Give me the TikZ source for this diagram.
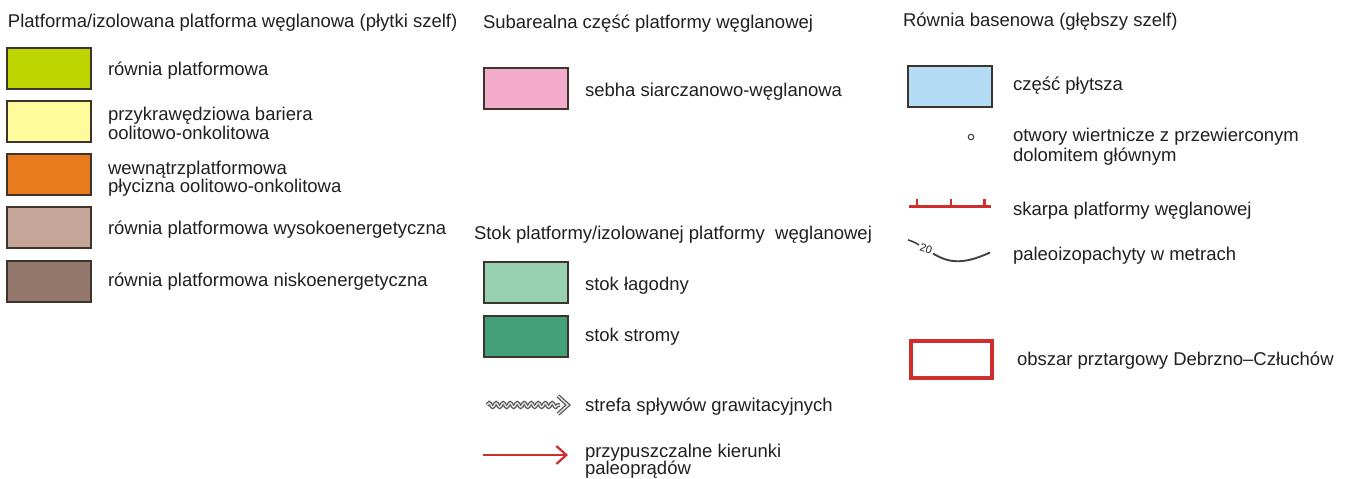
\documentclass[tikz,border=0pt]{standalone}
\usepackage{fontspec}
\setmainfont{Liberation Sans}
\usetikzlibrary{arrows.meta,decorations.pathmorphing}
\definecolor{txt}{RGB}{35,31,32}
\definecolor{bord}{RGB}{60,52,45}
\definecolor{cgreen}{RGB}{190,214,0}
\definecolor{cyellow}{RGB}{255,250,155}
\definecolor{corange}{RGB}{232,123,30}
\definecolor{crose}{RGB}{196,165,152}
\definecolor{cbrown}{RGB}{148,119,107}
\definecolor{cpink}{RGB}{243,172,203}
\definecolor{clgreen}{RGB}{152,208,178}
\definecolor{cdgreen}{RGB}{68,160,120}
\definecolor{cblue}{RGB}{180,221,245}
\definecolor{cred}{RGB}{208,45,45}
\begin{document}
\begin{tikzpicture}[x=1pt,y=-1pt,
  lbl/.style={anchor=base west,inner sep=0pt,outer sep=0pt,text=txt,font=\fontsize{18.5}{20}\selectfont},
  swatch/.style={draw=bord,line width=1.4pt,anchor=north west,minimum width=84pt,minimum height=41pt,inner sep=0pt,outer sep=0pt},
  redline/.style={draw=cred,line width=3pt},
  snk/.style={decorate,decoration={snake,amplitude=2pt,segment length=7pt}},
]
\useasboundingbox[fill=white] (0,0) rectangle (1349,479);

% ---------- column 1 ----------
\node[lbl] (h1) at (8,27.5) {Platforma/izolowana platforma węglanowa (płytki szelf)};
\node[swatch,fill=cgreen]  (b1) at (7,48) {};
\node[swatch,fill=cyellow] (b2) at (7,101) {};
\node[swatch,fill=corange] (b3) at (7,154) {};
\node[swatch,fill=crose]   (b4) at (7,207) {};
\node[swatch,fill=cbrown]  (b5) at (7,261) {};
\node[lbl] (t1)  at (108,75) {równia platformowa};
\node[lbl] (t2a) at (108,120) {przykrawędziowa bariera};
\node[lbl] (t2b) at (108,139) {oolitowo-onkolitowa};
\node[lbl] (t3a) at (108,174) {wewnątrzplatformowa};
\node[lbl] (t3b) at (108,192.5) {płycizna oolitowo-onkolitowa};
\node[lbl] (t4)  at (108,234) {równia platformowa wysokoenergetyczna};
\node[lbl] (t5)  at (108,286.5) {równia platformowa niskoenergetyczna};

% ---------- column 2 ----------
\node[lbl] (h2) at (483,28.3) {Subarealna część platformy węglanowej};
\node[swatch,fill=cpink] (b6) at (484,68) {};
\node[lbl] (t6) at (585,96.5) {sebha siarczanowo-węglanowa};

\node[lbl] (h3) at (474,239) {Stok platformy/izolowanej platformy\ \ węglanowej};
\node[swatch,fill=clgreen] (b7) at (484,262) {};
\node[swatch,fill=cdgreen] (b8) at (484,316) {};
\node[lbl] (t7) at (585,290) {stok łagodny};
\node[lbl] (t8) at (585,341.5) {stok stromy};

% gravity flow symbol
\coordinate (g0) at (487,405);
\coordinate (g1) at (560,405);
\coordinate (gt) at (568,405);
\draw[snk,draw=gray!70!black,line width=4pt] (g0) -- (g1);
\draw[snk,draw=gray!20,line width=1.4pt] (g0) -- (g1);
\draw[draw=gray!70!black,line width=4pt,line join=miter] ([shift={(-10,-9)}]gt) -- (gt) -- ([shift={(-10,9)}]gt);
\draw[draw=gray!20,line width=1.4pt,line join=miter] ([shift={(-10,-9)}]gt) -- (gt) -- ([shift={(-10,9)}]gt);
\node[lbl] (t9) at (585,411.5) {strefa spływów grawitacyjnych};

% paleocurrent arrow
\coordinate (a0) at (483,455);
\coordinate (a1) at (568,455);
\draw[draw=cred,line width=2.2pt,-{Straight Barb[length=10pt,width=18pt,line width=2.2pt]}] (a0) -- (a1);
\node[lbl] (t10a) at (585,457) {przypuszczalne kierunki};
\node[lbl] (t10b) at (585,474.5) {paleoprądów};

% ---------- column 3 ----------
\node[lbl] (h4) at (903,26) {Równia basenowa (głębszy szelf)};
\node[swatch,fill=cblue] (b9) at (908,66) {};
\node[lbl] (t11) at (1013,90.5) {część płytsza};

\node[circle,draw=txt!85,line width=1.1pt,minimum size=5.5pt,inner sep=0pt] (well) at (971,137) {};
\node[lbl] (t12a) at (1013,141.5) {otwory wiertnicze z przewierconym};
\node[lbl] (t12b) at (1013,161) {dolomitem głównym};

% scarp
\coordinate (s0) at (909,206);
\coordinate (s1) at (991,206);
\draw[redline] (s0) -- (s1);
\draw[draw=cred,line width=2.2pt] (917,206) -- (917,199) (951,206) -- (951,199) (984.5,206) -- (984.5,199);
\node[lbl] (t13) at (1013,215.5) {skarpa platformy węglanowej};

% paleoisopach
\coordinate (p0) at (908,240);
\coordinate (p1) at (919,245);
\coordinate (p2) at (933,253.5);
\coordinate (p3) at (990,252.5);
\draw[draw=txt!85,line width=1.6pt] (p0) .. controls (912,241) and (916,243) .. (p1);
\draw[draw=txt!85,line width=1.9pt] (p2) .. controls (950,264) and (965,264) .. (p3);
\node[inner sep=0pt,text=txt,font=\fontsize{11}{12}\selectfont,rotate=-18] (iso) at (926,249) {20};
\node[lbl] (t14) at (1013,260) {paleoizopachyty w metrach};

% concession area
\node[draw=cred,line width=3.8pt,minimum width=81pt,minimum height=37pt,inner sep=0pt,outer sep=0pt,anchor=north west] (area) at (911,341) {};
\node[lbl] (t15) at (1017,365.5) {obszar prztargowy Debrzno–Człuchów};
\end{tikzpicture}
\end{document}
